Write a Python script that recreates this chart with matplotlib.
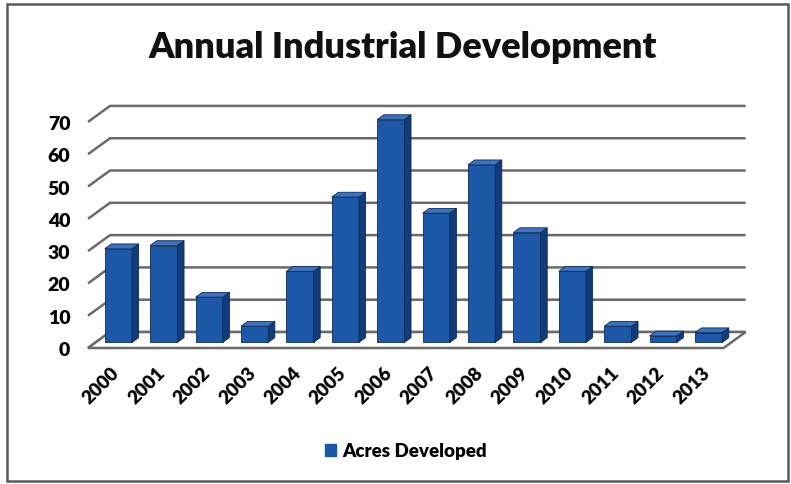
import matplotlib
matplotlib.use("Agg")
import matplotlib.pyplot as plt
from matplotlib.patches import Polygon, Patch, Rectangle
import numpy as np

years = ["2000", "2001", "2002", "2003", "2004", "2005", "2006",
         "2007", "2008", "2009", "2010", "2011", "2012", "2013"]
acres = [29, 30, 14, 5, 22, 45, 69, 40, 55, 34, 22, 5, 2, 3]
yticks = [0, 10, 20, 30, 40, 50, 60, 70]
title = "Annual Industrial Development"
series_name = "Acres Developed"

plt.rcParams['font.family'] = ['Lato', 'DejaVu Sans']

W, H = 791, 485
fig = plt.figure(figsize=(W / 100, H / 100), dpi=100)

# outer border
fig.patches.append(Rectangle((7 / W, 3 / H), 781 / W, 477 / H, transform=fig.transFigure,
                             fill=False, edgecolor="#5a5a5a", linewidth=1.8))

ax = fig.add_axes([80 / W, (H - 360) / H, 680 / W, 265 / H])
n = len(years)
x = np.arange(n)
ax.set_xlim(-0.676, 14.302)
ax.set_ylim(-3.406, 78.64)

DX, DY = 0.485, 4.95        # depth offset (category units, value units)
f0, fd = 0.35, 0.30         # bar front depth position and bar depth
bw = 0.6

grid_col = "#6a6a6a"
x0, x1 = -0.5, n - 0.5
for v in yticks:
    ax.plot([x0, x0 + DX, x1 + DX], [v, v + DY, v + DY], color=grid_col, lw=1.8,
            zorder=1, solid_capstyle="butt")
floor = Polygon([[x0, 0], [x1, 0], [x1 + DX, DY], [x0 + DX, DY]], closed=True,
                facecolor="white", edgecolor=grid_col, lw=1.8, zorder=1.5)
ax.add_patch(floor)

front_col = "#1c58a5"
side_col = "#113b79"
top_col = "#3d72bd"
edge_col = "#0b2a5c"

ox, oy = f0 * DX, f0 * DY
ax.bar(x + ox, acres, width=bw, bottom=oy, color=front_col, edgecolor=edge_col,
       linewidth=0.6, zorder=3)
for xi, v in zip(x, acres):
    l, r = xi + ox - bw / 2, xi + ox + bw / 2
    b, t = oy, oy + v
    ddx, ddy = fd * DX, fd * DY
    side = Polygon([[r, b], [r + ddx, b + ddy], [r + ddx, t + ddy], [r, t]], closed=True,
                   facecolor=side_col, edgecolor=edge_col, lw=0.6, zorder=3)
    top = Polygon([[l, t], [r, t], [r + ddx, t + ddy], [l + ddx, t + ddy]], closed=True,
                  facecolor=top_col, edgecolor=edge_col, lw=0.6, zorder=3)
    ax.add_patch(side)
    ax.add_patch(top)

ax.set_yticks(yticks)
ax.set_yticklabels([str(v) for v in yticks], fontsize=14, fontweight="heavy")
ax.tick_params(axis="y", length=0, pad=7)
ax.set_xticks(x)
ax.set_xticklabels(years, rotation=45, ha="right", rotation_mode="anchor",
                   fontsize=13.5, fontweight="heavy")
ax.tick_params(axis="x", length=0, pad=3)
for s in ax.spines.values():
    s.set_visible(False)
ax.patch.set_alpha(0)

fig.text(403 / W, (H - 58) / H, title, ha="center", va="baseline",
         fontsize=26, fontweight="heavy", color="#111111")

handle = Patch(facecolor=front_col, edgecolor=front_col)
fig.legend([handle], [series_name], loc="center", bbox_to_anchor=(406 / W, (H - 452) / H),
           frameon=False, handlelength=0.6, handleheight=0.6, handletextpad=0.35,
           prop={"size": 13.5, "weight": "heavy"})

fig.savefig("out.png", dpi=100)
